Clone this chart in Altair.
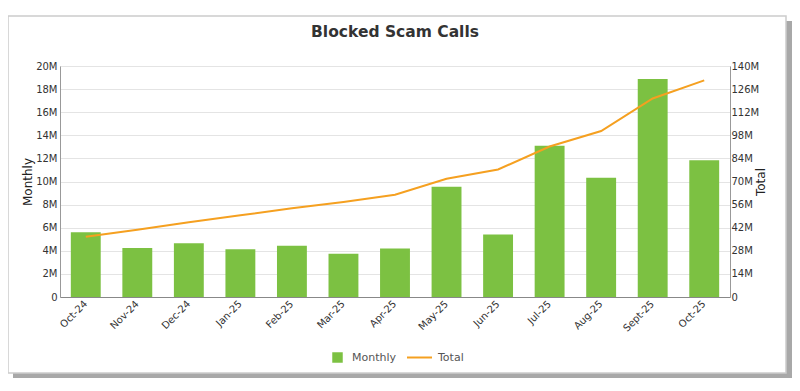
import altair as alt
import pandas as pd

months = ["Oct-24", "Nov-24", "Dec-24", "Jan-25", "Feb-25", "Mar-25", "Apr-25",
          "May-25", "Jun-25", "Jul-25", "Aug-25", "Sept-25", "Oct-25"]
monthly_m = [5.6, 4.24, 4.65, 4.13, 4.44, 3.75, 4.19, 9.55, 5.42, 13.1, 10.33, 18.87, 11.83]
total_m = [36.5, 40.8, 45.3, 49.5, 53.8, 57.6, 62.0, 71.7, 77.3, 91.2, 100.6, 120.3, 131.3]
left_ticks = [0, 2e6, 4e6, 6e6, 8e6, 10e6, 12e6, 14e6, 16e6, 18e6, 20e6]
right_ticks = [0, 14e6, 28e6, 42e6, 56e6, 70e6, 84e6, 98e6, 112e6, 126e6, 140e6]
title_text = "Blocked Scam Calls"

df = pd.DataFrame({
    "month": months,
    "Monthly": [v * 1e6 for v in monthly_m],
    "Total": [v * 1e6 for v in total_m],
    "s1": "Monthly",
    "s2": "Total",
})

FONT = "DejaVu Sans"
GREEN = "#7cc142"
ORANGE = "#f5a020"
LBL = "datum.value == 0 ? '0' : round(datum.value / 1e6) + 'M'"

one = alt.Data(values=[{"a": 1}])
shadow_r = alt.Chart(one).mark_rect(color="#a8a8a8").encode(
    x=alt.value(726), x2=alt.value(733), y=alt.value(-45), y2=alt.value(312))
shadow_b = alt.Chart(one).mark_rect(color="#a8a8a8").encode(
    x=alt.value(-47), x2=alt.value(733), y=alt.value(307), y2=alt.value(312))
card = alt.Chart(one).mark_rect(fillOpacity=0, stroke="#cccccc", strokeWidth=1.5).encode(
    x=alt.value(-52), x2=alt.value(726), y=alt.value(-50), y2=alt.value(307))
title = alt.Chart(one).mark_text(text=title_text, font=FONT, fontSize=15.5, fontWeight="bold",
                                 color="#333", align="center", baseline="middle").encode(
    x=alt.value(335), y=alt.value(-34))

xenc = alt.X("month:N", sort=months, title=None,
             scale=alt.Scale(paddingInner=0.42, paddingOuter=0.21),
             axis=alt.Axis(labelAngle=-45, labelAlign="right", labelBaseline="middle",
                           labelFont=FONT, labelFontSize=10, labelColor="#333",
                           domainColor="#888", ticks=False, labelPadding=5))

base = alt.Chart(df)
bars = base.mark_bar(color=GREEN).encode(
    x=xenc,
    y=alt.Y("Monthly:Q", title="Monthly", scale=alt.Scale(domain=[0, 20e6], nice=False),
            axis=alt.Axis(orient="left", values=left_ticks, labelExpr=LBL, grid=True,
                          gridColor="#e4e4e4", domainColor="#999", ticks=False,
                          labelFont=FONT, labelFontSize=10, labelColor="#333", labelPadding=3,
                          titleFont=FONT, titleFontSize=12, titleFontWeight="normal",
                          titleColor="#222", titlePadding=1)),
    fill=alt.Fill("s1:N", scale=alt.Scale(domain=["Monthly"], range=[GREEN]),
                  legend=alt.Legend(title=None, orient="none", legendX=272, legendY=286,
                                    symbolType="square", symbolSize=110, labelFont=FONT,
                                    labelFontSize=11, labelColor="#555", labelOffset=9,
                                    symbolStrokeWidth=0)),
)
line = base.mark_line(strokeWidth=2).encode(
    x=xenc,
    y=alt.Y("Total:Q", title="Total", scale=alt.Scale(domain=[0, 140e6], nice=False),
            axis=alt.Axis(orient="right", values=right_ticks, labelExpr=LBL, grid=False,
                          domainColor="#999", ticks=False,
                          labelFont=FONT, labelFontSize=10, labelColor="#333", labelPadding=1,
                          titleFont=FONT, titleFontSize=12, titleFontWeight="normal",
                          titleColor="#222", titleAngle=270, titlePadding=9)),
    stroke=alt.Stroke("s2:N", scale=alt.Scale(domain=["Total"], range=[ORANGE]),
                      legend=alt.Legend(title=None, orient="none", legendX=346, legendY=278,
                                        symbolType="stroke", symbolSize=625,
                                        symbolStrokeWidth=2, labelFont=FONT,
                                        labelFontSize=11, labelColor="#555", labelOffset=5)),
)

chart = alt.layer(shadow_r, shadow_b, card, title, bars, line).resolve_scale(
    y="independent").properties(
    width=670, height=231,
    autosize=alt.AutoSizeParams(type="none"),
    padding={"left": 52, "top": 58, "right": 62, "bottom": 86},
).configure_view(stroke=None).configure(background="white")

chart.save("out.html", embed_options={"renderer": "svg", "actions": False})
